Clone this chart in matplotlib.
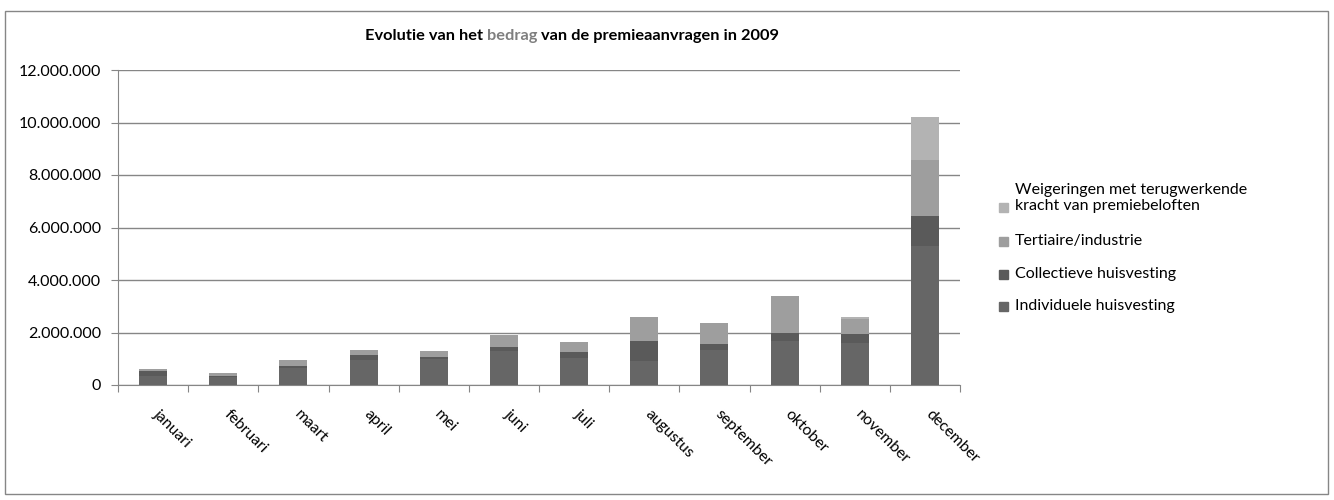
import matplotlib
matplotlib.use("Agg")
import matplotlib.pyplot as plt
from matplotlib.patches import Rectangle
from matplotlib.ticker import FuncFormatter, MultipleLocator
import numpy as np

plt.rcParams['font.family'] = ['Lato', 'DejaVu Sans']

months = ["januari", "februari", "maart", "april", "mei", "juni", "juli",
          "augustus", "september", "oktober", "november", "december"]
individuele = [350000, 290000, 660000, 950000, 990000, 1300000, 1030000,
               930000, 1330000, 1680000, 1600000, 5310000]
collectieve = [170000, 40000, 60000, 190000, 80000, 150000, 230000,
               750000, 230000, 300000, 350000, 1140000]
tertiaire = [80000, 120000, 230000, 190000, 230000, 460000, 380000,
             910000, 800000, 1410000, 570000, 2130000]
weigeringen = [0, 0, 0, 0, 0, 0, 0, 0, 0, 0, 70000, 1620000]

series_labels = ["Individuele huisvesting", "Collectieve huisvesting",
                 "Tertiaire/industrie",
                 "Weigeringen met terugwerkende\nkracht van premiebeloften"]
series_colors = ["#666666", "#5a5a5a", "#9e9e9e", "#b3b3b3"]

W, H = 1334, 500
fig = plt.figure(figsize=(W / 100, H / 100), dpi=100)

# chart border
fig.patches.append(Rectangle((5 / W, 6 / H), 1323 / W, 483 / H, transform=fig.transFigure,
                             fill=False, edgecolor="#868686", linewidth=1))

ax = fig.add_axes([118 / W, 115 / H, (960 - 118) / W, (385 - 70) / H])

x = np.arange(len(months))
bottom = np.zeros(len(months))
for vals, col, lab in zip([individuele, collectieve, tertiaire, weigeringen],
                          series_colors, series_labels):
    v = np.array(vals, dtype=float)
    ax.bar(x, v, width=0.4, bottom=bottom, color=col, label=lab, zorder=3)
    bottom += v

ax.set_xlim(-0.5, len(months) - 0.5)
ax.set_ylim(0, 12000000)
ax.yaxis.set_major_locator(MultipleLocator(2000000))
ax.yaxis.set_major_formatter(FuncFormatter(lambda v, p: f"{int(v):,}".replace(",", ".")))
ax.grid(axis="y", color="#868686", linewidth=1, zorder=0)
for s in ["top", "right"]:
    ax.spines[s].set_visible(False)
for s in ["left", "bottom"]:
    ax.spines[s].set_color("#868686")
ax.tick_params(axis="y", length=5, color="#868686", labelsize=11.5, pad=7)
ax.set_xticks(np.arange(-0.5, len(months) + 0.5, 1.0))
ax.set_xticklabels([])
ax.tick_params(axis="x", length=5, color="#868686")
for i, m in enumerate(months):
    ax.text(i + 0.04, -0.085, m, transform=ax.get_xaxis_transform(), rotation=-45,
            rotation_mode="anchor", ha="left", va="center", fontsize=11.3)

# title with coloured word
fig.canvas.draw()
r = fig.canvas.get_renderer()
parts = [("Evolutie van het ", "black"), ("bedrag", "#7f7f7f"),
         (" van de premieaanvragen in 2009", "black")]
tsize = 11.8
tmp = [fig.text(0, 0, t, fontsize=tsize, fontweight="bold") for t, _ in parts]
widths = [t.get_window_extent(r).width for t in tmp]
for t in tmp:
    t.remove()
total = sum(widths)
xpos = 572 - total / 2
for (t, c), w in zip(parts, widths):
    fig.text(xpos / W, 1 - 36 / H, t, fontsize=tsize, fontweight="bold", color=c,
             ha="left", va="center")
    xpos += w

# legend
leg_rows = [(series_labels[3], series_colors[3], 207, 198),
            (series_labels[2], series_colors[2], 241, 241),
            (series_labels[1], series_colors[1], 274, 274),
            (series_labels[0], series_colors[0], 306, 306)]
for lab, col, ym, yt in leg_rows:
    fig.patches.append(Rectangle((999 / W, 1 - (ym + 4.5) / H), 9 / W, 9 / H,
                                 transform=fig.transFigure, color=col))
    fig.text(1015 / W, 1 - yt / H, lab, fontsize=11.5, ha="left", va="center",
             linespacing=1.15)

fig.savefig("out.png", dpi=100)
